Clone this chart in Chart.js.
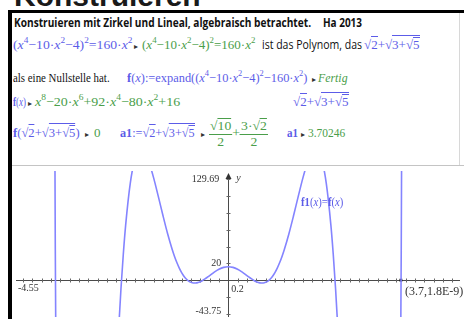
<!DOCTYPE html>
<html><head><meta charset="utf-8">
<script src="https://cdn.jsdelivr.net/npm/chart.js@4.4.1/dist/chart.umd.min.js"></script>
<style>
html,body{margin:0;padding:0;width:464px;height:319px;overflow:hidden;background:#fff;}
#big{position:absolute;left:14px;top:-21px;font:bold 30px "Liberation Sans",Arial,sans-serif;color:#1a1a1a;white-space:nowrap;}
#topline{position:absolute;left:8px;top:10px;width:456px;height:3px;background:#000;}
#leftline{position:absolute;left:8px;top:10px;width:4px;height:309px;background:#000;}
#panelR{position:absolute;left:459px;top:13px;width:1px;height:152px;background:#d8d8d8;}
#panelB{position:absolute;left:12px;top:165px;width:452px;height:1px;background:#c4c4c4;}
.t{position:absolute;white-space:nowrap;transform-origin:0 0;line-height:1.1;}
.serif{font-family:"Liberation Serif","Times New Roman",serif;font-size:13px;}
.sans{font-family:"Open Sans","Liberation Sans",sans-serif;font-size:12px;}
.bold{font-weight:bold;}
.b{color:#5c5ce8}.g{color:#4a9e4a}.k{color:#111}
.arr{font-family:"DejaVu Sans",sans-serif;font-size:8px;color:#333;}
sup{font-size:0.68em;vertical-align:0.65em;line-height:0}
.sq{display:inline-block;border-top:1px solid currentColor;padding-top:1px;line-height:1}
.sq2{display:inline-block;border-top:1px solid currentColor;padding-top:0;line-height:1}
.fr{display:inline-block;vertical-align:-0.75em;text-align:center;line-height:1.1}
.fr>span{display:block}
.fr>span:first-child{border-bottom:1px solid currentColor;padding:0 1px 1px 1px}
.mk{display:inline-block;width:0;height:0;}
#chartwrap{position:absolute;left:12px;top:167px;width:452px;height:154px;}
</style>
</head><body>
<div id="big">Konstruieren</div>
<div id="topline"></div>
<div id="panelR"></div>
<div id="panelB"></div>
<div id="chartwrap"><canvas id="c" width="452" height="154"></canvas></div>
<div id="leftline"></div>
<div id="texts"></div>
<script>
const xVals = [-3.75,-3.716,-3.688,-2.5,-2.45,-2.4,-2.35,-2.3,-2.25,-2.2,-2.1,-2.0,-1.9,-1.8,-1.7,-1.6,-1.5,-1.4,-1.3,-1.2,-1.15,-1.1,-1.05,-1.0,-0.95,-0.9,-0.85,-0.8,-0.75,-0.7,-0.65,-0.6,-0.55,-0.5,-0.4,-0.3,-0.2,-0.1,
  0,0.1,0.2,0.3,0.4,0.5,0.55,0.6,0.65,0.7,0.75,0.8,0.85,0.9,0.95,1.0,1.05,1.1,1.15,1.2,1.3,1.4,1.5,1.6,1.7,1.8,1.9,2.0,2.1,2.2,2.25,2.3,2.35,2.4,2.45,2.5,3.688,3.716,3.75];
const yVals = [572.7,151.86,-152.74,-247.18,-176.68,-113.77,-58.38,-10.27,30.77,65.12,115.34,144.0,155.05,152.53,140.2,121.54,99.57,76.79,55.18,36.15,27.91,20.61,14.3,9.0,4.7,1.36,-1.05,-2.59,-3.35,-3.41,-2.85,-1.79,-0.33,1.44,5.47,9.53,12.95,15.21,
  16.0,15.21,12.95,9.53,5.47,1.44,-0.33,-1.79,-2.85,-3.41,-3.35,-2.59,-1.05,1.36,4.7,9.0,14.3,20.61,27.91,36.15,55.18,76.79,99.57,121.54,140.2,152.53,155.05,144.0,115.34,65.12,30.77,-10.27,-58.38,-113.77,-176.68,-247.18,-152.74,151.86,572.7];
const pointX = [3.7];
const pointY = [0];
const pointLabel = ["(3.7,1.8E-9)"];
const xRange = [-4.55, 4.967];
const yRange = [-43.75, 129.69];
const xTickStep = 0.2;
const yTickStep = 20;
const xEndLabels = ["-4.55"];
const yEndLabels = ["129.69", "-43.75"];
const scaleLabels = ["0.2", "20"];

// ---- notes text ----
const segs = [
 [14,27,297,'sans bold k','Konstruieren mit Zirkel und Lineal, algebraisch betrachtet.'],
 [323,27,39,'sans bold k','Ha 2013'],
 [13,49,119,'serif b','(<i>x</i><sup>4</sup>−10·<i>x</i><sup>2</sup>−4)<sup>2</sup>=160·<i>x</i><sup>2</sup>'],
 [134,49,0,'arr','▸'],
 [142,49,113,'serif g','(<i>x</i><sup>4</sup>−10·<i>x</i><sup>2</sup>−4)<sup>2</sup>=160·<i>x</i><sup>2</sup>'],
 [262,49,100,'sans k','ist das Polynom, das'],
 [364,49,56,'serif b','√<span class="sq">2</span>+√<span class="sq">3+√<span class="sq2">5</span></span>'],
 [13,82,97,'serif k','als eine Nullstelle hat.'],
 [127,82,180,'serif b','<b>f</b>(<i>x</i>):=expand((<i>x</i><sup>4</sup>−10·<i>x</i><sup>2</sup>−4)<sup>2</sup>−160·<i>x</i><sup>2</sup>)'],
 [312,82,0,'arr','▸'],
 [318,82,30,'serif g','<i>Fertig</i>'],
 [13,106,13,'serif b','<b>f</b>(<i>x</i>)'],
 [28,106,0,'arr','▸'],
 [35,106,145,'serif g','<i>x</i><sup>8</sup>−20·<i>x</i><sup>6</sup>+92·<i>x</i><sup>4</sup>−80·<i>x</i><sup>2</sup>+16'],
 [293,106,56,'serif b','√<span class="sq">2</span>+√<span class="sq">3+√<span class="sq2">5</span></span>'],
 [13,137,67,'serif b','<b>f</b>(√<span class="sq">2</span>+√<span class="sq">3+√<span class="sq2">5</span></span>)'],
 [85,137,0,'arr','▸'],
 [94,137,0,'serif g','0'],
 [120,137,75,'serif b','<b>a1</b>:=√<span class="sq">2</span>+√<span class="sq">3+√<span class="sq2">5</span></span>'],
 [201,137,0,'arr','▸'],
 [209,137,59,'serif g','<span class="fr"><span>√<span class="sq2">10</span></span><span>2</span></span>+<span class="fr"><span>3·√<span class="sq2">2</span></span><span>2</span></span>'],
 [287,137,11,'serif b','<b>a1</b>'],
 [301,137,0,'arr','▸'],
 [308,137,37,'serif g','3.70246'],
 [301,206,42,'serif b','<b>f1</b>(<i>x</i>)=<b>f</b>(<i>x</i>)']
];
const box = document.getElementById('texts');
segs.forEach(([x,y,w,cls,html])=>{
  const d = document.createElement('div');
  d.className = 't ' + cls;
  d.innerHTML = html + '<span class="mk"></span>';
  box.appendChild(d);
  const mk = d.querySelector('.mk');
  const base = mk.offsetTop;
  const ow = d.offsetWidth;
  const s = w ? w / ow : 1;
  d.style.left = x + 'px';
  d.style.top = (y - base) + 'px';
  d.style.transform = 'scaleX(' + s + ')';
});

// ---- chart ----
const tiAxes = {
  id: 'tiAxes',
  beforeDatasetsDraw(chart) {
    const {ctx, chartArea: a, scales: {x, y}} = chart;
    const x0 = Math.round(x.getPixelForValue(0)) + 0.5;
    const y0 = Math.round(y.getPixelForValue(0)) + 0.5;
    ctx.save();
    ctx.strokeStyle = '#4a4a4a';
    ctx.lineWidth = 1;
    ctx.beginPath();
    ctx.moveTo(a.left, y0); ctx.lineTo(a.right, y0);
    ctx.moveTo(x0, a.bottom); ctx.lineTo(x0, a.top + 5);
    ctx.stroke();
    ctx.strokeStyle = '#666';
    ctx.beginPath();
    for (let k = Math.ceil(xRange[0] / xTickStep); k <= Math.floor(xRange[1] / xTickStep); k++) {
      if (k === 0) continue;
      const px = Math.round(x.getPixelForValue(k * xTickStep)) + 0.5;
      ctx.moveTo(px, y0 - 2); ctx.lineTo(px, y0 + 2);
    }
    for (let k = Math.ceil(yRange[0] / yTickStep); k <= Math.floor(yRange[1] / yTickStep); k++) {
      if (k === 0) continue;
      const py = Math.round(y.getPixelForValue(k * yTickStep)) + 0.5;
      ctx.moveTo(x0 - 2, py); ctx.lineTo(x0 + 2, py);
    }
    ctx.stroke();
    ctx.fillStyle = '#333';
    ctx.beginPath();
    ctx.moveTo(x0, a.top + 2); ctx.lineTo(x0 - 3, a.top + 8); ctx.lineTo(x0 + 3, a.top + 8); ctx.closePath();
    ctx.fill();
    ctx.restore();
  },
  afterDatasetsDraw(chart) {
    const {ctx, chartArea: a, scales: {x, y}} = chart;
    const x0 = x.getPixelForValue(0), y0 = y.getPixelForValue(0);
    ctx.save();
    ctx.fillStyle = '#333';
    ctx.font = '10px "Liberation Serif", serif';
    ctx.textBaseline = 'alphabetic';
    ctx.textAlign = 'left';
    ctx.fillText(xEndLabels[0], a.left + 2, y0 + 11);
    ctx.textAlign = 'center';
    ctx.fillText(scaleLabels[0], x.getPixelForValue(xTickStep), y0 + 12);
    ctx.textAlign = 'right';
    ctx.fillText(scaleLabels[1], x0 - 7, y.getPixelForValue(yTickStep) + 3);
    ctx.fillText(yEndLabels[0], x0 - 9, a.top + 11);
    ctx.fillText(yEndLabels[1], x0 - 7, a.bottom - 3);
    ctx.textAlign = 'left';
    ctx.font = 'italic 10px "Liberation Serif", serif';
    ctx.fillText('y', x0 + 8, a.top + 10);
    ctx.font = '12px "Liberation Serif", serif';
    const px = x.getPixelForValue(pointX[0]);
    const py = y.getPixelForValue(pointY[0]);
    ctx.fillText(pointLabel[0], px + 4, py + 15);
    ctx.restore();
  }
};

new Chart(document.getElementById('c'), {
  type: 'scatter',
  data: {
    datasets: [{
      data: xVals.map((v, i) => ({x: v, y: yVals[i]})),
      showLine: true,
      borderColor: '#8484ff',
      borderWidth: 1.6,
      pointRadius: 0,
      cubicInterpolationMode: 'monotone',
      fill: false
    }, {
      data: pointX.map((v, i) => ({x: v, y: pointY[i]})),
      pointStyle: 'rect',
      pointRadius: 2,
      backgroundColor: '#000',
      borderColor: '#000',
      borderWidth: 0
    }]
  },
  options: {
    responsive: false,
    animation: false,
    layout: {padding: 0},
    plugins: {legend: {display: false}, tooltip: {enabled: false}},
    scales: {
      x: {type: 'linear', min: xRange[0], max: xRange[1], display: false},
      y: {type: 'linear', min: yRange[0], max: yRange[1], display: false}
    }
  },
  plugins: [tiAxes]
});
</script>
</body></html>
